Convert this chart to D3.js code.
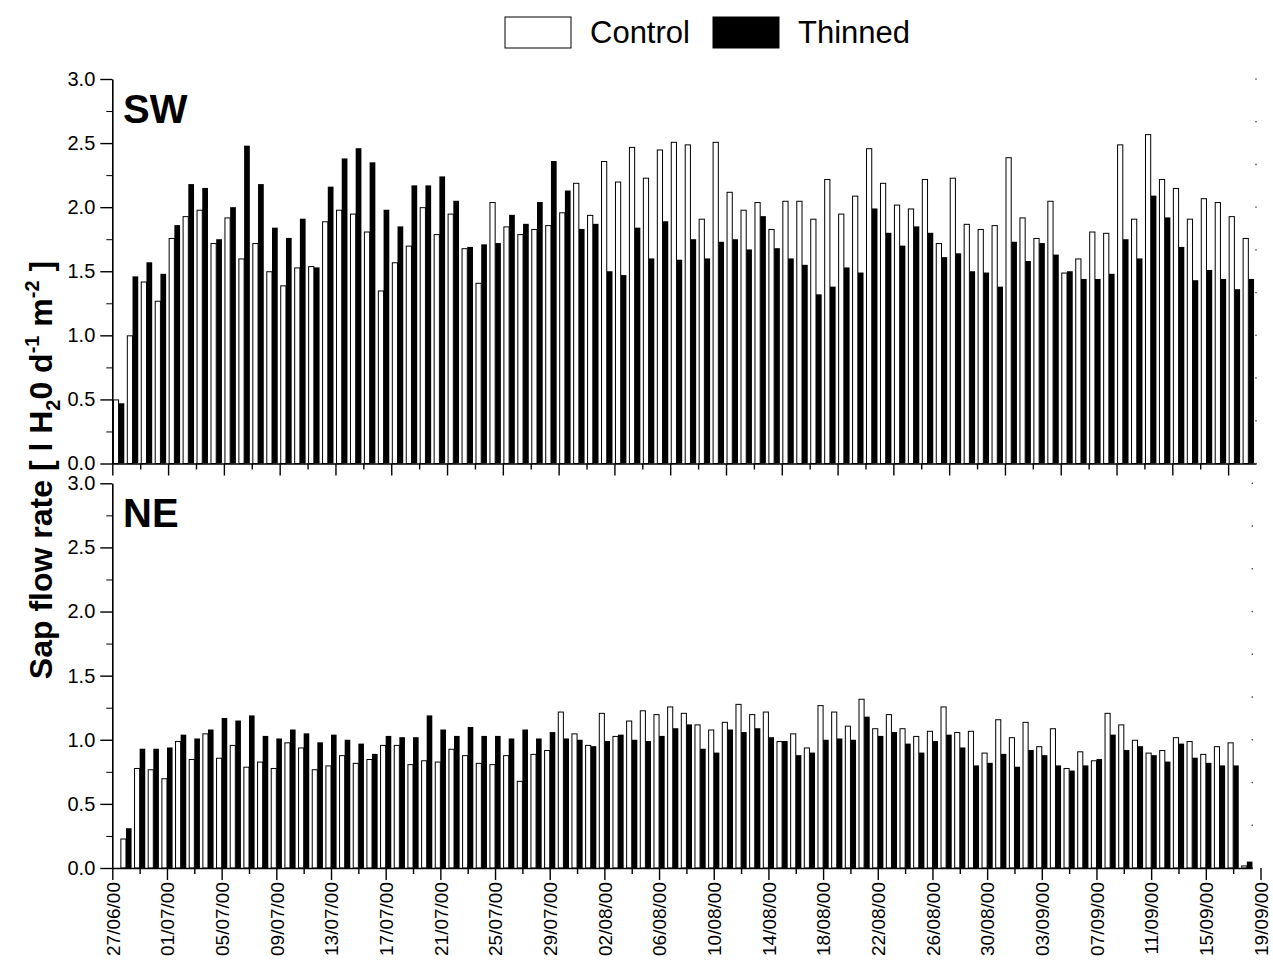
<!DOCTYPE html>
<html><head><meta charset="utf-8">
<script src="https://cdn.jsdelivr.net/npm/d3@7"></script>
<style>
body{margin:0;background:#fff}
svg{display:block}
text{font-family:"Liberation Sans",Arial,Helvetica,sans-serif;fill:#000}
</style>
</head><body>
<svg id="chart" width="1273" height="972"></svg>
<script>
// ---- data ----
const series = ["Control", "Thinned"];
const panels = ["SW", "NE"];

const swControl = [0.50,1.00,1.42,1.27,1.76,1.93,1.98,1.72,1.92,1.60,1.72,1.50,1.39,1.53,1.54,1.89,
  1.98,1.95,1.81,1.35,1.57,1.70,2.00,1.79,1.95,1.68,1.41,2.04,1.85,1.79,1.83,1.86,
  1.96,2.19,1.94,2.36,2.20,2.47,2.23,2.45,2.51,2.49,1.91,2.51,2.12,1.98,2.04,1.83,2.05,
  2.05,1.91,2.22,1.95,2.09,2.46,2.19,2.02,1.99,2.22,1.72,2.23,1.87,1.83,1.86,2.39,1.92,
  1.76,2.05,1.49,1.60,1.81,1.80,2.49,1.91,2.57,2.22,2.15,1.91,2.07,2.04,1.93,1.76];
const swThinned = [0.47,1.46,1.57,1.48,1.86,2.18,2.15,1.75,2.00,2.48,2.18,1.84,1.76,1.91,1.53,2.16,
  2.38,2.46,2.35,1.98,1.85,2.17,2.17,2.24,2.05,1.69,1.71,1.72,1.94,1.87,2.04,2.36,
  2.13,1.83,1.87,1.50,1.47,1.84,1.60,1.89,1.59,1.75,1.60,1.73,1.75,1.67,1.93,1.68,1.60,
  1.55,1.32,1.38,1.53,1.49,1.99,1.80,1.70,1.85,1.80,1.61,1.64,1.50,1.49,1.38,1.73,1.58,
  1.72,1.63,1.50,1.44,1.44,1.48,1.75,1.60,2.09,1.92,1.69,1.43,1.51,1.44,1.36,1.44];

const neControl = [0.23,0.78,0.77,0.70,0.99,0.85,1.05,0.86,0.96,0.79,0.83,0.78,0.98,0.94,0.77,0.80,
  0.88,0.82,0.85,0.96,0.96,0.81,0.84,0.83,0.93,0.88,0.82,0.81,0.88,0.68,0.89,0.92,
  1.22,1.05,0.96,1.21,1.03,1.15,1.23,1.20,1.26,1.21,1.12,1.08,1.14,1.28,1.20,1.22,0.99,
  1.05,0.94,1.27,1.22,1.11,1.32,1.09,1.20,1.09,1.03,1.07,1.26,1.06,1.07,0.90,1.16,1.02,
  1.14,0.95,1.09,0.78,0.91,0.84,1.21,1.12,1.00,0.90,0.92,1.02,0.99,0.89,0.95,0.98,0.02];
const neThinned = [0.31,0.93,0.93,0.94,1.04,1.01,1.08,1.17,1.15,1.19,1.03,1.01,1.08,1.05,0.98,1.04,
  1.00,0.97,0.89,1.03,1.02,1.02,1.19,1.08,1.03,1.10,1.03,1.03,1.01,1.08,1.01,1.06,
  1.01,1.00,0.95,0.99,1.04,1.00,0.99,1.03,1.09,1.12,0.93,0.90,1.08,1.06,1.09,1.02,0.99,
  0.88,0.90,1.00,1.01,1.00,1.18,1.03,1.06,0.97,0.90,0.99,1.04,0.94,0.80,0.82,0.89,0.79,
  0.92,0.88,0.80,0.76,0.80,0.85,1.04,0.92,0.95,0.88,0.83,0.97,0.86,0.82,0.80,0.80,0.05];

// day index of first bar in each panel (0 = 27/06/00)
const swFirstDay = 0;
const neFirstDay = 1;

const xTickLabels = ["27/06/00","01/07/00","05/07/00","09/07/00","13/07/00","17/07/00","21/07/00",
  "25/07/00","29/07/00","02/08/00","06/08/00","10/08/00","14/08/00","18/08/00","22/08/00",
  "26/08/00","30/08/00","03/09/00","07/09/00","11/09/00","15/09/00","19/09/00"];
const yTickValues = [0.0,0.5,1.0,1.5,2.0,2.5,3.0];

// ---- layout ----
const svg = d3.select("#chart");
const X0 = 112.3;
const swX = d3.scaleLinear().domain([0, 82]).range([X0, 1256]);
const neX = d3.scaleLinear().domain([0, 83.4]).range([X0, 1252.3]);
const swY = d3.scaleLinear().domain([0, 3]).range([463.5, 79]);
const neY = d3.scaleLinear().domain([0, 3]).range([868, 483.3]);
const BW = 0.41;       // bar width in days
const swOffset = 0.45; // SW bars sit near mid-day
const neOffset = 0.0;

function drawPanel(name, x, y, ctrl, thin, firstDay, offset, lastTickDay, withLabels) {
  const g = svg.append("g");
  const days = ctrl.map((_, i) => firstDay + i + offset);
  g.selectAll("rect.t").data(thin).join("rect").attr("class","t")
    .attr("x", (d,i) => x(days[i]))
    .attr("width", (d,i) => x(days[i] + BW) - x(days[i]))
    .attr("y", d => y(d))
    .attr("height", d => y(0) - y(d))
    .attr("fill", "#000");
  g.selectAll("rect.c").data(ctrl).join("rect").attr("class","c")
    .attr("x", (d,i) => x(days[i] - BW) + 0.5)
    .attr("width", (d,i) => Math.max(0.5, x(days[i]) - x(days[i] - BW) - 0.5))
    .attr("y", d => y(d) + 0.5)
    .attr("height", d => Math.max(0, y(0) - y(d) - 0.5))
    .attr("fill", "#fff").attr("stroke", "#000").attr("stroke-width", 1);

  const yMinor = d3.range(0, 3.001, 0.25).filter(v => Math.abs(v*2 - Math.round(v*2)) > 1e-6);
  g.append("g").attr("transform", `translate(${X0},0)`)
    .call(d3.axisLeft(y).tickValues(yMinor).tickSize(6).tickSizeOuter(0).tickFormat(""))
    .call(a => a.select(".domain").remove());
  const ya = g.append("g").attr("transform", `translate(${X0},0)`)
    .call(d3.axisLeft(y).tickValues(yTickValues).tickSize(12).tickSizeOuter(0)
      .tickFormat(d3.format(".1f")).tickPadding(5));
  ya.selectAll("text").style("font-size","20px").attr("font-family", null);
  ya.select(".domain").attr("stroke-width", 1.6);
  ya.selectAll(".tick line").attr("stroke-width", 1.4);

  const xMajor = d3.range(0, lastTickDay + 0.1, 4);
  const xMinor = d3.range(2, lastTickDay + 0.1, 4);
  const y0 = y(0);
  g.append("g").attr("transform", `translate(0,${y0})`)
    .call(d3.axisBottom(x).tickValues(xMinor).tickSize(6).tickSizeOuter(0).tickFormat(""))
    .call(a => a.select(".domain").remove())
    .selectAll(".tick line").attr("stroke-width", 1.4);
  const xa = g.append("g").attr("transform", `translate(0,${y0})`)
    .call(d3.axisBottom(x).tickValues(xMajor).tickSize(12).tickSizeOuter(0)
      .tickFormat((d,i) => withLabels ? xTickLabels[i] : ""));
  xa.select(".domain").attr("stroke-width", 1.6);
  xa.selectAll(".tick line").attr("stroke-width", 1.4);
  xa.selectAll("text")
    .style("font-size","19px").attr("font-family", null)
    .attr("text-anchor","end")
    .attr("transform","rotate(-90)")
    .attr("x", -14).attr("y", 0).attr("dy","0.36em");

  const xr = x.range()[1];
  g.selectAll("rect.dot").data(d3.range(0, 10)).join("rect").attr("class","dot")
    .attr("x", xr - 0.7).attr("y", d => y(d/3) - 0.7)
    .attr("width", 1.4).attr("height", 1.4).attr("fill", "#444");

  g.append("text").attr("x", 123).attr("y", y(2.66))
    .style("font-size","40px").style("font-weight","bold").text(name);
}

drawPanel(panels[0], swX, swY, swControl, swThinned, swFirstDay, swOffset, 80, false);
drawPanel(panels[1], neX, neY, neControl, neThinned, neFirstDay, neOffset, 84, true);

// axis title
const title = svg.append("text")
  .attr("transform", "translate(52,470) rotate(-90)")
  .attr("text-anchor", "middle")
  .style("font-size", "32px").style("font-weight", "bold");
title.append("tspan").text("Sap flow rate [ l H");
title.append("tspan").attr("dy", 8).style("font-size","20px").text("2");
title.append("tspan").attr("dy", -8).text("0 d");
title.append("tspan").attr("dy", -13).style("font-size","20px").text("-1");
title.append("tspan").attr("dy", 13).text(" m");
title.append("tspan").attr("dy", -13).style("font-size","20px").text("-2");
title.append("tspan").attr("dy", 13).text(" ]");

// legend
const legend = svg.append("g");
const legX = [505, 713];
legend.selectAll("rect").data(series).join("rect")
  .attr("x", (d,i) => legX[i]).attr("y", 17).attr("width", 66).attr("height", 31)
  .attr("fill", (d,i) => i === 0 ? "#fff" : "#000").attr("stroke", "#000").attr("stroke-width", 1);
legend.selectAll("text").data(series).join("text")
  .attr("x", (d,i) => legX[i] + 85).attr("y", 43)
  .style("font-size", "31px").text(d => d);
</script>
</body></html>
